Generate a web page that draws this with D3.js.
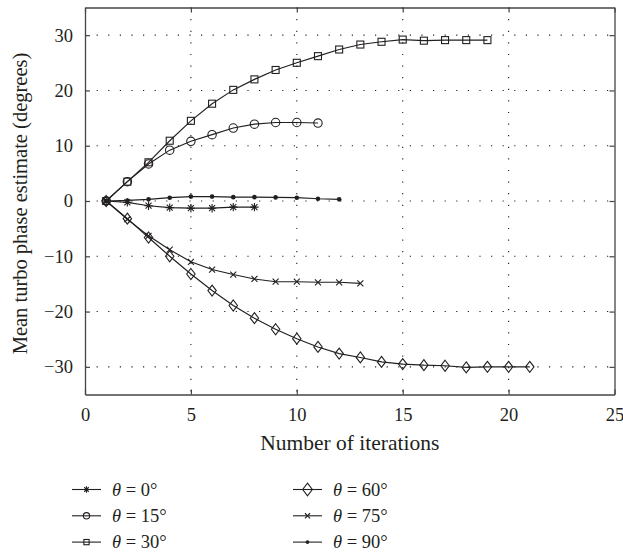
<!DOCTYPE html>
<html>
<head>
<meta charset="utf-8">
<script src="https://cdn.jsdelivr.net/npm/d3@7"></script>
<style>
  body { margin: 0; background: #fff; }
  svg { display: block; font-family: "Liberation Serif", "DejaVu Serif", serif; }
</style>
</head>
<body>
<svg id="chart" width="623" height="557"></svg>
<script>
// Mean turbo phase estimate per iteration (iteration = index + 1)
const theta0 = [0, -0.25, -0.85, -1.2, -1.3, -1.3, -1.1, -1.1];
const theta15 = [0, 3.5, 6.7, 9.2, 10.8, 12.0, 13.2, 13.9, 14.2, 14.2, 14.1];
const theta30 = [0, 3.5, 7.0, 10.9, 14.5, 17.6, 20.1, 22.0, 23.7, 25.0, 26.2, 27.4, 28.3, 28.8, 29.2, 29.0, 29.1, 29.1, 29.1];
const theta60 = [0, -3.2, -6.6, -10.0, -13.2, -16.2, -18.9, -21.2, -23.2, -24.9, -26.4, -27.6, -28.3, -29.1, -29.5, -29.7, -29.8, -30.1, -30.0, -30.0, -30.0];
const theta75 = [0, -3.3, -6.3, -8.8, -11.0, -12.4, -13.3, -14.1, -14.6, -14.6, -14.7, -14.7, -14.9];
const theta90 = [0, 0.1, 0.3, 0.6, 0.8, 0.8, 0.7, 0.7, 0.65, 0.6, 0.4, 0.3];

const xTicks = [0, 5, 10, 15, 20, 25];
const yTicks = [-30, -20, -10, 0, 10, 20, 30];
const legendLabels = ["0", "15", "30", "60", "75", "90"];
const markerNames = ["star", "circle", "square", "diamond", "cross", "dot"];
// legend glyphs are drawn a bit smaller than in the plot (diamond a bit bigger)
const legendScale = [0.75, 0.75, 0.75, 1.15, 0.85, 0.8];

const series = [theta0, theta15, theta30, theta60, theta75, theta90].map((v, i) => ({
    values: v,
    label: legendLabels[i],
    marker: markerNames[i],
    legendScale: legendScale[i],
}));

const ink = "#231f20";
const svg = d3.select("#chart");

const x = d3.scaleLinear().domain([0, 25]).range([85, 614.5]);
const y = d3.scaleLinear().domain([-35, 35]).range([394.5, 7.5]);

// grid (dotted)
const grid = svg.append("g").attr("stroke", ink).attr("stroke-width", 1.1)
    .attr("stroke-dasharray", "1.2,10.4");
grid.selectAll(".gx").data(xTicks.slice(1, -1)).join("line")
    .attr("x1", d => x(d)).attr("x2", d => x(d))
    .attr("y1", y(35)).attr("y2", y(-35));
grid.selectAll(".gy").data(yTicks).join("line")
    .attr("x1", x(0)).attr("x2", x(25))
    .attr("y1", d => y(d)).attr("y2", d => y(d));

// axes with inward ticks
const fmt = d => d < 0 ? "\u2212" + Math.abs(d) : String(d);
const axB = svg.append("g").attr("transform", `translate(0,${y(-35)})`)
    .call(d3.axisBottom(x).tickValues(xTicks).tickSizeInner(-5).tickSizeOuter(0).tickPadding(13).tickFormat(fmt));
const axT = svg.append("g").attr("transform", `translate(0,${y(35)})`)
    .call(d3.axisTop(x).tickValues(xTicks).tickSizeInner(-5).tickSizeOuter(0).tickFormat(""));
const axL = svg.append("g").attr("transform", `translate(${x(0)},0)`)
    .call(d3.axisLeft(y).tickValues(yTicks).tickSizeInner(-5).tickSizeOuter(0).tickPadding(12).tickFormat(fmt));
const axR = svg.append("g").attr("transform", `translate(${x(25)},0)`)
    .call(d3.axisRight(y).tickValues(yTicks).tickSizeInner(-5).tickSizeOuter(0).tickFormat(""));

[axB, axT, axL, axR].forEach(a => {
    a.attr("font-family", null).attr("font-size", null);
    a.select(".domain").attr("stroke", "#444").attr("stroke-width", 1.3);
    a.selectAll(".tick line").attr("stroke", "#444").attr("stroke-width", 1.2);
    a.selectAll("text").attr("fill", ink).attr("font-size", 18.5);
});

// axis titles
svg.append("text")
    .attr("x", x(12.5)).attr("y", 450)
    .attr("text-anchor", "middle").attr("font-size", 21.5).attr("fill", ink)
    .text("Number of iterations");
svg.append("text")
    .attr("transform", `translate(27,${(y(35) + y(-35)) / 2 + 2.5}) rotate(-90)`)
    .attr("text-anchor", "middle").attr("font-size", 20.5).attr("fill", ink)
    .text("Mean turbo phase estimate (degrees)");

// markers
function drawMarker(g, type, cx, cy, k = 1) {
    if (type === "circle") {
        g.append("circle").attr("cx", cx).attr("cy", cy).attr("r", 4.2 * k)
            .attr("fill", "none").attr("stroke", ink).attr("stroke-width", 1.1);
    } else if (type === "square") {
        const h = 3.5 * k;
        g.append("rect").attr("x", cx - h).attr("y", cy - h)
            .attr("width", 2 * h).attr("height", 2 * h)
            .attr("fill", "none").attr("stroke", ink).attr("stroke-width", 1.1);
    } else if (type === "diamond") {
        const w = 4.2 * k, h = 5.5 * k;
        g.append("path")
            .attr("d", `M${cx},${cy - h}L${cx + w},${cy}L${cx},${cy + h}L${cx - w},${cy}Z`)
            .attr("fill", "none").attr("stroke", ink).attr("stroke-width", 1.1);
    } else if (type === "cross") {
        const s = 3 * k;
        g.append("path")
            .attr("d", `M${cx - s},${cy - s}L${cx + s},${cy + s}M${cx - s},${cy + s}L${cx + s},${cy - s}`)
            .attr("stroke", ink).attr("stroke-width", 1.1);
    } else if (type === "star") {
        const s = 4.2 * k, d = 3 * k;
        g.append("path")
            .attr("d", `M${cx},${cy - s}V${cy + s}M${cx - s},${cy}H${cx + s}` +
                `M${cx - d},${cy - d}L${cx + d},${cy + d}M${cx - d},${cy + d}L${cx + d},${cy - d}`)
            .attr("stroke", ink).attr("stroke-width", 1.1);
    } else if (type === "dot") {
        g.append("circle").attr("cx", cx).attr("cy", cy).attr("r", 2.3 * k).attr("fill", ink);
    }
}

const line = d3.line().x((d, i) => x(i + 1)).y(d => y(d));

series.forEach(s => {
    const g = svg.append("g");
    g.append("path").datum(s.values).attr("d", line)
        .attr("fill", "none").attr("stroke", ink).attr("stroke-width", 1.15);
    s.values.forEach((v, i) => drawMarker(g, s.marker, x(i + 1), y(v)));
});

// legend: two columns of three
const legend = svg.append("g");
series.forEach((s, i) => {
    const col = Math.floor(i / 3), row = i % 3;
    const lx = col === 0 ? 72 : 293;
    const ly = 489.5 + row * 26.3;
    const g = legend.append("g");
    g.append("line").attr("x1", lx).attr("x2", lx + 29).attr("y1", ly).attr("y2", ly)
        .attr("stroke", ink).attr("stroke-width", 1.1);
    drawMarker(g, s.marker, lx + 14.5, ly, s.legendScale);
    const t = g.append("text").attr("x", lx + 40).attr("y", ly + 6)
        .attr("font-size", 18.5).attr("fill", ink);
    t.append("tspan").attr("font-style", "italic").text("\u03b8");
    t.append("tspan").text(` = ${s.label}\u00b0`);
});
</script>
</body>
</html>
